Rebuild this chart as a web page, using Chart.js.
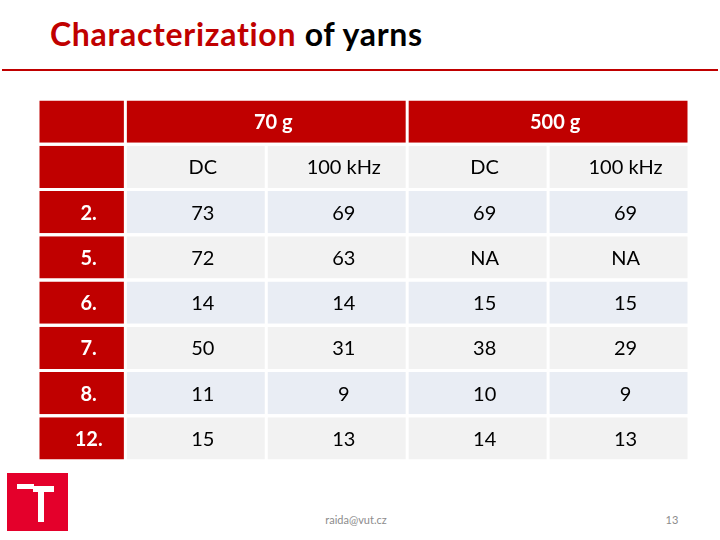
<!DOCTYPE html>
<html>
<head>
<meta charset="utf-8">
<script src="https://cdn.jsdelivr.net/npm/chart.js@4"></script>
<style>
  body { margin: 0; width: 720px; height: 540px; background: #fff; position: relative; overflow: hidden; font-family: Lato, sans-serif; }
  #title { position: absolute; left: 50px; top: 14px; font-size: 32px; font-weight: bold; color: #000; white-space: nowrap; letter-spacing: 0.7px; font-variant-ligatures: none; }
  #title span { color: #c00000; }
  #rule { position: absolute; left: 2px; top: 69px; width: 716px; height: 2px; background: #c00000; }
  #wrap { position: absolute; left: 38px; top: 99px; width: 651px; height: 362px; }
  #logo { position: absolute; left: 7px; top: 473px; width: 61px; height: 58px; background: #e4002b; }
  #logo div { position: absolute; background: #fff; }
  #mail { position: absolute; left: 300px; width: 112px; top: 513px; text-align: center; font-size: 11px; color: #8c8c8c; }
  #page { position: absolute; left: 650px; width: 44px; top: 513px; text-align: center; font-size: 11px; color: #8c8c8c; }
</style>
</head>
<body>
<div id="title"><span>Characterization</span> of yarns</div>
<div id="rule"></div>
<div id="wrap"><canvas id="tableChart" width="651" height="362"></canvas></div>
<div id="logo">
  <div style="left:10px; top:11px; width:17px; height:5px;"></div>
  <div style="left:26px; top:13px; width:21px; height:6px;"></div>
  <div style="left:31px; top:16px; width:6px; height:33px;"></div>
</div>
<div id="mail">raida@vut.cz</div>
<div id="page">13</div>

<script>
// dados da tabela
var groups = ['70 g', '500 g'];
var subHeaders = ['DC', '100 kHz', 'DC', '100 kHz'];
var samples = ['2.', '5.', '6.', '7.', '8.', '12.'];
var dc70 = [73, 72, 14, 50, 11, 15];
var khz70 = [69, 63, 14, 31, 9, 13];
var dc500 = [69, null, 15, 38, 10, 14];   // null = NA
var khz500 = [69, null, 15, 29, 9, 13];

// layout
var red = '#c00000';
var greyCell = '#f2f2f2';
var blueCell = '#e9edf4';
var colEdges = [0, 0.62, 1.62, 2.62, 3.62, 4.62];
var rowKeys = ['group', 'sub'].concat(samples);
var textShift = 7;

function valueColumn(c, values) {
    var data = [null, [colEdges[c], colEdges[c + 1]]];
    var colors = ['#fff', greyCell];
    var texts = [null, subHeaders[c - 1]];
    values.forEach(function (v, i) {
        data.push([colEdges[c], colEdges[c + 1]]);
        colors.push(i % 2 === 0 ? blueCell : greyCell);
        texts.push(v === null ? 'NA' : String(v));
    });
    return { label: subHeaders[c - 1], data: data, backgroundColor: colors, cellText: texts,
             textColor: '#000', textFont: '20px Lato' };
}

function groupSpan(g) {
    var data = rowKeys.map(function () { return null; });
    var texts = data.slice();
    data[0] = [colEdges[1 + g * 2], colEdges[3 + g * 2]];
    texts[0] = groups[g];
    return { label: groups[g], data: data, backgroundColor: red, cellText: texts,
             textColor: '#fff', textFont: 'bold 20px Lato' };
}

var labelColumn = {
    label: 'sample',
    data: rowKeys.map(function () { return [colEdges[0], colEdges[1]]; }),
    backgroundColor: red,
    cellText: [null, null].concat(samples),
    textColor: '#fff',
    textFont: 'bold 20px Lato'
};

var datasets = [labelColumn, groupSpan(0), groupSpan(1),
    valueColumn(1, dc70), valueColumn(2, khz70), valueColumn(3, dc500), valueColumn(4, khz500)];

datasets.forEach(function (ds) {
    ds.grouped = false;
    ds.borderColor = '#ffffff';
    ds.borderWidth = { left: 1.5, right: 1.5, top: 0, bottom: 0 };
    ds.borderSkipped = false;
    ds.barPercentage = 1;
    ds.categoryPercentage = 0.934;
});

var cellTextPlugin = {
    id: 'cellText',
    afterDatasetsDraw: function (chart) {
        var ctx = chart.ctx;
        ctx.save();
        ctx.textAlign = 'center';
        ctx.textBaseline = 'middle';
        chart.data.datasets.forEach(function (ds, di) {
            var meta = chart.getDatasetMeta(di);
            meta.data.forEach(function (bar, i) {
                var t = ds.cellText[i];
                if (t == null || ds.data[i] == null) return;
                var p = bar.getProps(['x', 'base', 'y'], true);
                ctx.fillStyle = ds.textColor;
                ctx.font = ds.textFont;
                ctx.fillText(t, (p.x + p.base) / 2 + textShift, p.y + 1);
            });
        });
        ctx.restore();
    }
};

var ctxTabela = document.getElementById('tableChart').getContext('2d');
var tabela = new Chart(ctxTabela, {
    type: 'bar',
    data: {
        labels: rowKeys,
        datasets: datasets
    },
    options: {
        indexAxis: 'y',
        responsive: false,
        animation: false,
        devicePixelRatio: 1,
        layout: { padding: 0 },
        plugins: {
            legend: { display: false },
            tooltip: { enabled: false }
        },
        scales: {
            x: { type: 'linear', min: 0, max: colEdges[colEdges.length - 1], display: false },
            y: { display: false }
        }
    },
    plugins: [cellTextPlugin]
});
</script>
</body>
</html>
